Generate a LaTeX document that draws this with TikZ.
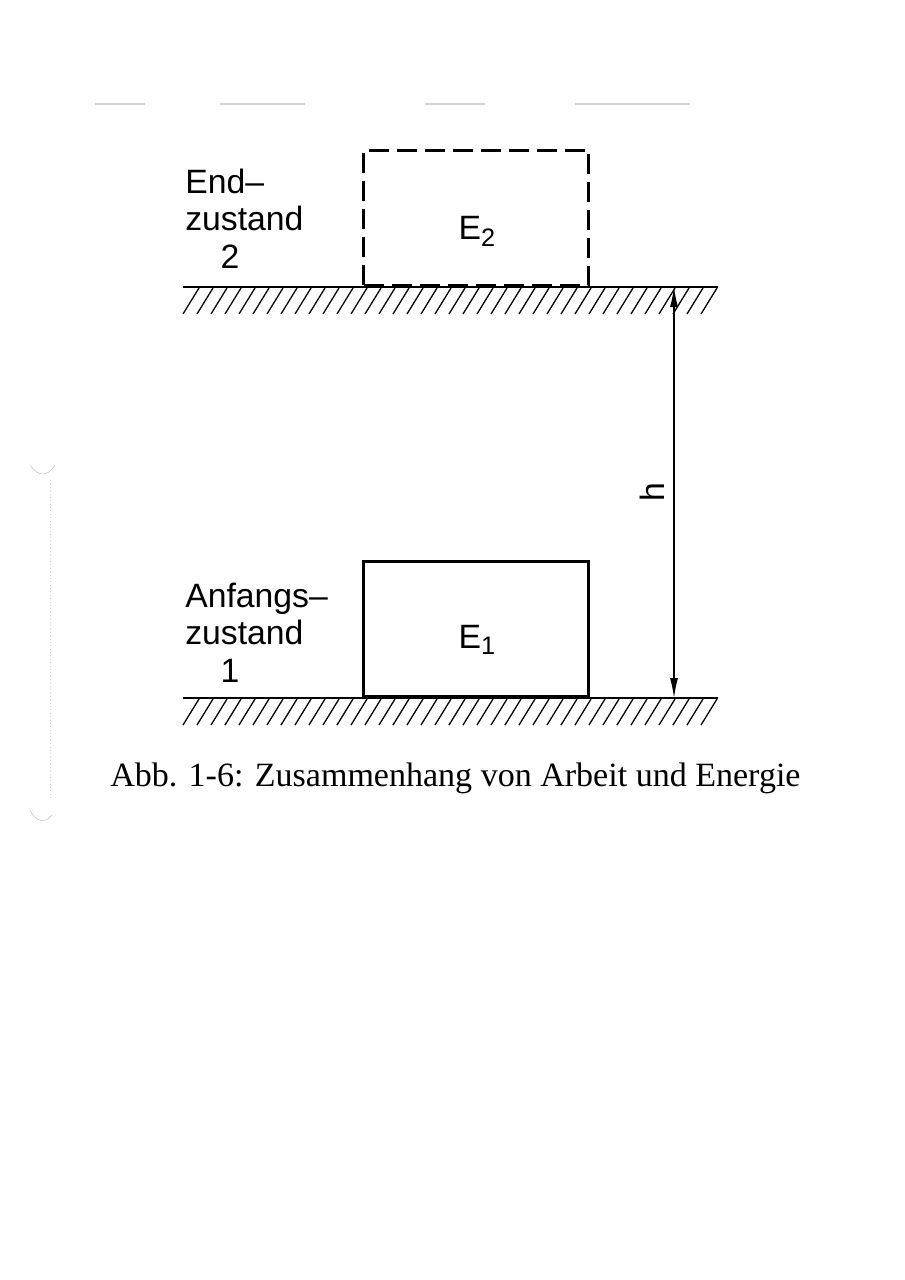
\documentclass[tikz,border=0pt]{standalone}
\usepackage{fontspec}
\setmainfont{Liberation Serif}
\setsansfont{Liberation Sans}
\usetikzlibrary{arrows.meta}
\begin{document}
\begin{tikzpicture}[x=0.025cm, y=-0.025cm,
    ground/.style={line width=1.5pt},
    hatch/.style={line width=0.9pt},
    block/.style={draw, line width=2.2pt, minimum width=5.625cm, minimum height=3.375cm, anchor=south west, inner sep=0pt},
    lbl/.style={font=\sffamily\fontsize{24}{26.5}\selectfont, inner sep=0pt, align=left},
    dim/.style={line width=0.9pt, {Latex[length=0.5cm,width=0.2cm]}-{Latex[length=0.5cm,width=0.2cm]}}]
  \useasboundingbox[fill=white] (0,0) rectangle (905,1280);
  % faint marks of the scan
  \draw[gray!35, line width=1pt] (95,104) -- (145,104) (220,104) -- (305,104)
    (425,104) -- (485,104) (575,104) -- (690,104);
  \draw[gray!45] (30,465) .. controls (38,477) and (48,477) .. (55,465);
  \draw[gray!45] (30,810) .. controls (36,823) and (46,823) .. (52,815);
  \draw[gray!35, dotted] (50,480) -- (50,800);

  % upper floor, final state
  \draw[ground] (183,287) -- (718,287);
  \foreach \x in {183,197,...,702} \draw[hatch] (\x,314) -- (\x+16,288);
  \node[block, dash pattern=on 0.5cm off 0.2cm] (endbox) at (362,287) {};
  \node[lbl, anchor=base] (e2) at (477,240) {E\raisebox{-0.2em}{\fontsize{18}{18}\selectfont 2}};
  \node[lbl, anchor=base west] (endlbl) at (185,268) {End–\\zustand\\\hspace*{1.05em}2};

  % lower floor, initial state
  \draw[ground] (183,698) -- (718,698);
  \foreach \x in {183,197,...,702} \draw[hatch] (\x,725) -- (\x+16,699);
  \node[block] (startbox) at (362,698) {};
  \node[lbl, anchor=base] (e1) at (477,648) {E\raisebox{-0.2em}{\fontsize{18}{18}\selectfont 1}};
  \node[lbl, anchor=base west] (startlbl) at (185,682) {Anfangs–\\zustand\\\hspace*{1.05em}1};

  % height
  \coordinate (htop) at (674,287);
  \coordinate (hbot) at (674,698);
  \draw[dim] (htop) -- (hbot);
  \node[lbl, rotate=90] (hlbl) at (652,492) {h};

  \node[font=\fontsize{24.2}{28}\selectfont, anchor=base west, inner sep=0pt] (caption) at (110,786)
    {Abb. 1-6: Zusammenhang von Arbeit und Energie};
\end{tikzpicture}
\end{document}
